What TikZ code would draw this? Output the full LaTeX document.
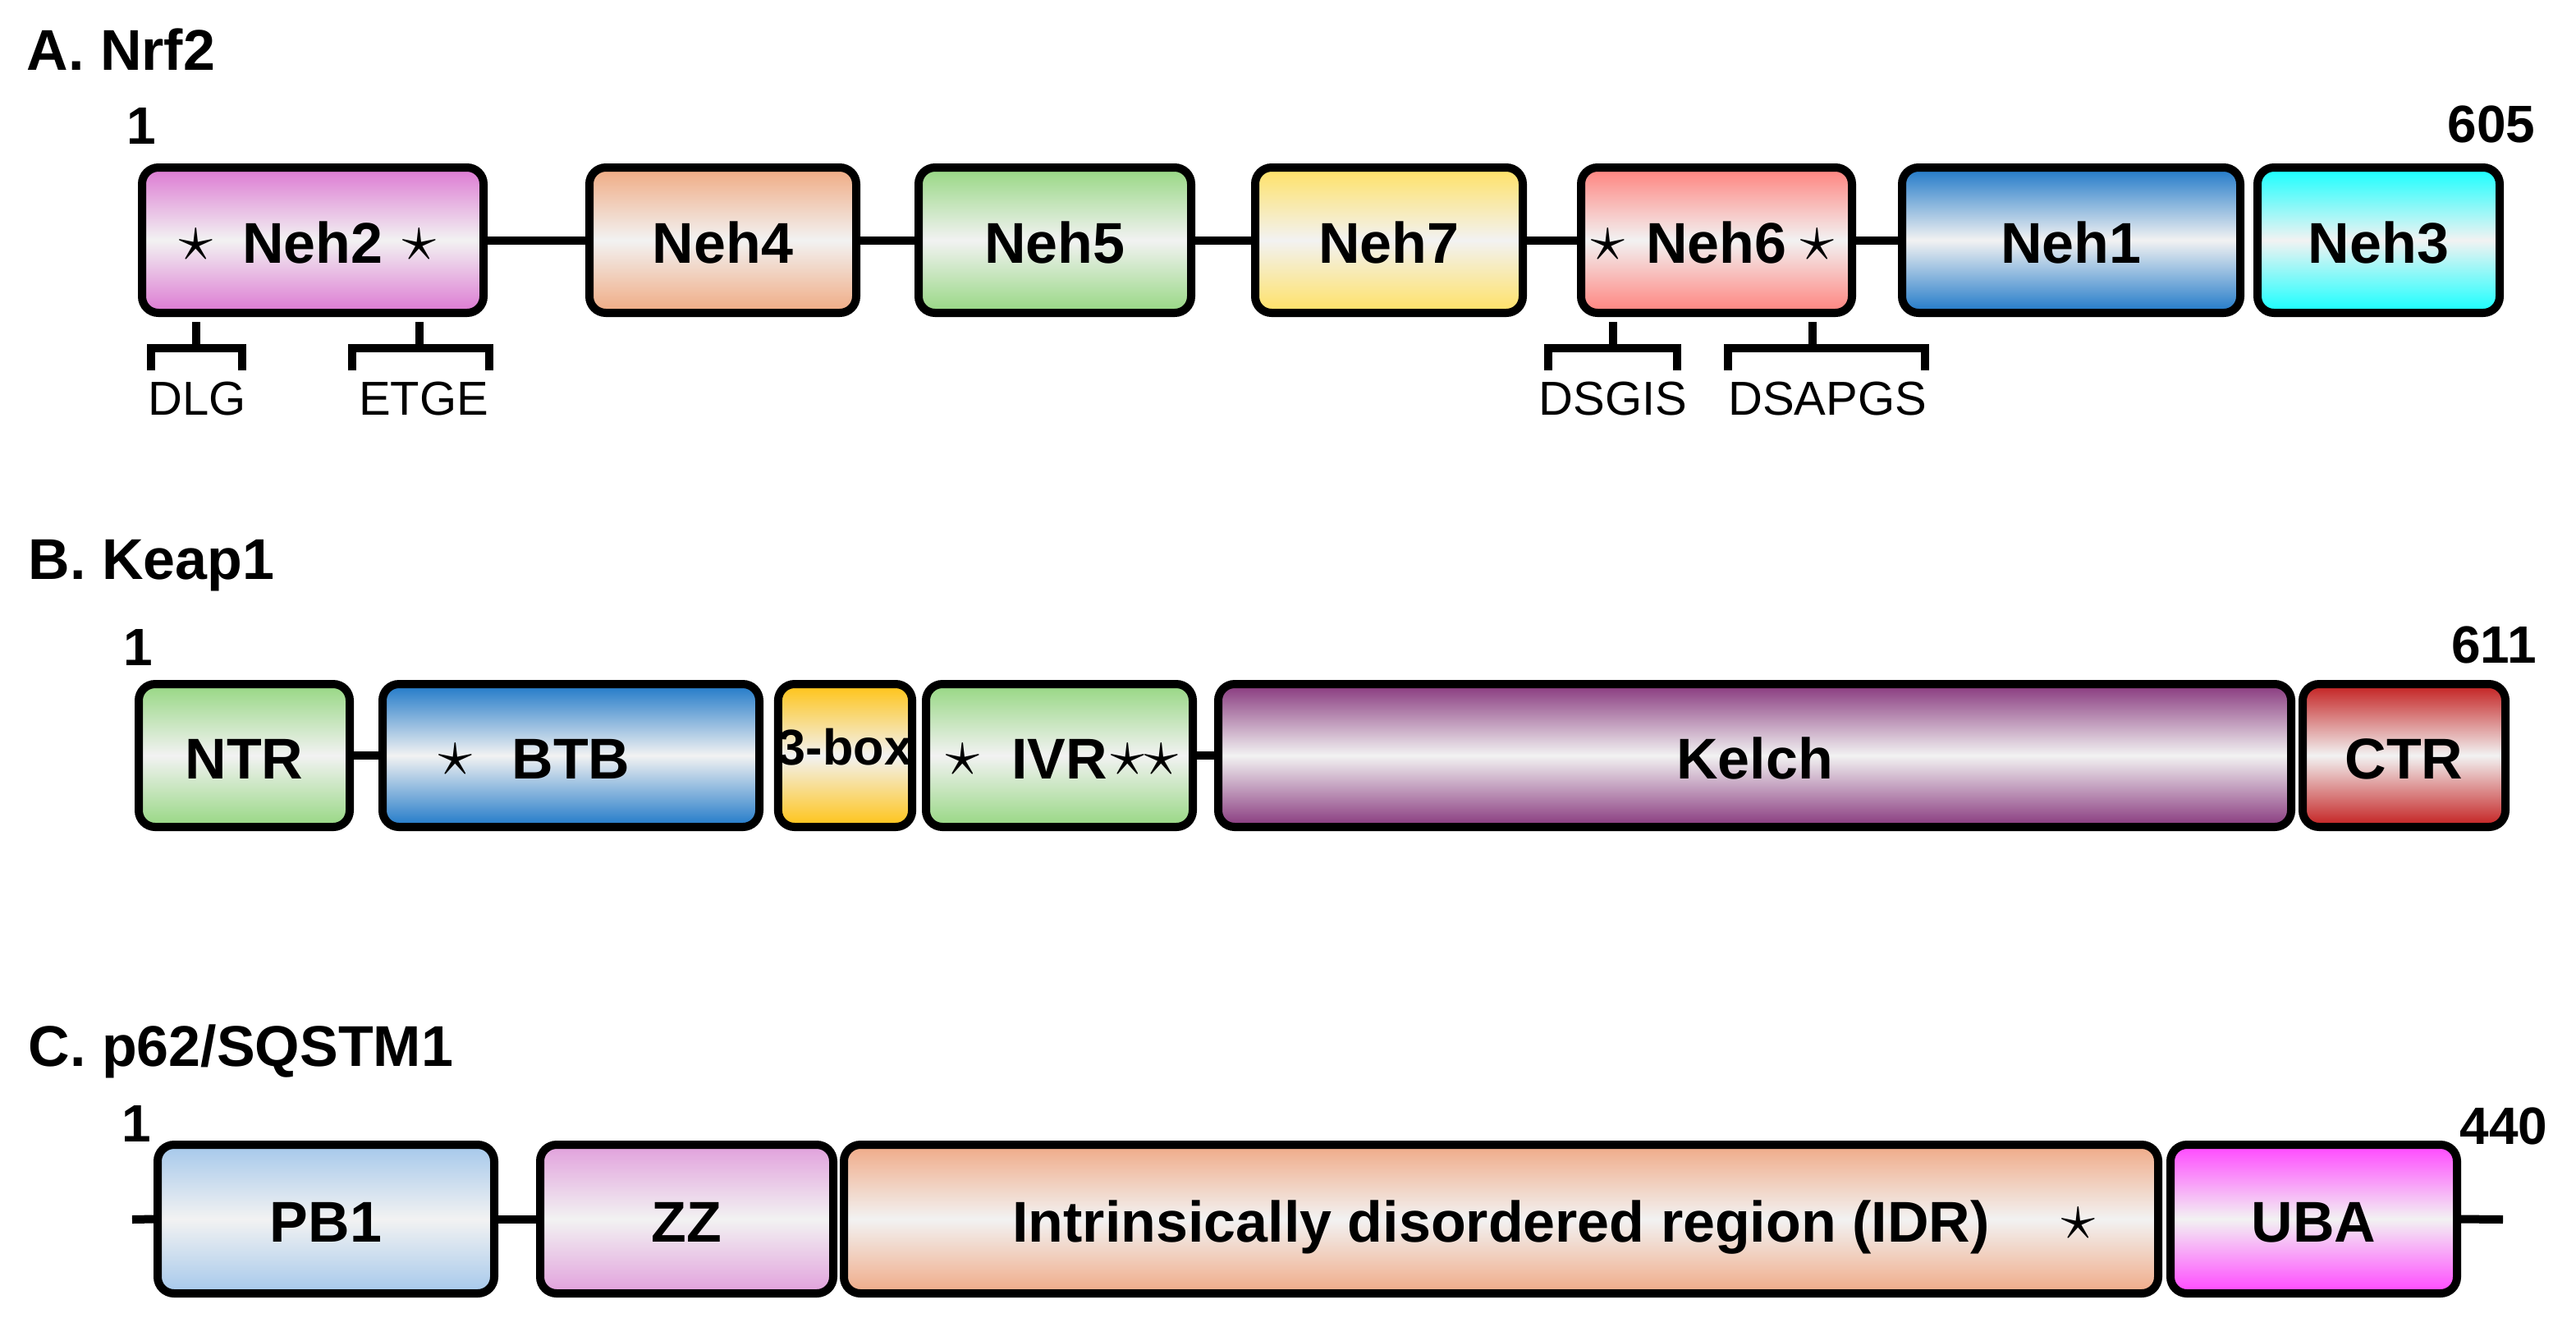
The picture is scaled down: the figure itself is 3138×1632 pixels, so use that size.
\documentclass[tikz,border=0pt]{standalone}
\usepackage{fontspec}
\usepackage{graphicx}
\setmainfont{Liberation Sans}
\definecolor{midc}{RGB}{242,242,242}
\definecolor{cNehB}{RGB}{220,120,210}
\definecolor{cNehD}{RGB}{240,170,130}
\definecolor{cNehE}{RGB}{150,215,130}
\definecolor{cNehG}{RGB}{255,225,100}
\definecolor{cNehF}{RGB}{255,130,125}
\definecolor{cNehA}{RGB}{30,120,200}
\definecolor{cNehC}{RGB}{20,255,255}
\definecolor{cNTR}{RGB}{150,215,130}
\definecolor{cBTB}{RGB}{30,120,200}
\definecolor{cTbox}{RGB}{255,195,20}
\definecolor{cIVR}{RGB}{150,215,130}
\definecolor{cKelch}{RGB}{135,55,125}
\definecolor{cCTR}{RGB}{195,30,30}
\definecolor{cPB}{RGB}{165,200,235}
\definecolor{cZZ}{RGB}{225,160,220}
\definecolor{cIDR}{RGB}{240,170,135}
\definecolor{cUBA}{RGB}{255,70,255}
\newcommand{\stx}{\raisebox{0.05em}{\scalebox{1.2}{$\star$}}}
\begin{document}
\begin{tikzpicture}[x=0.25pt,y=-0.25pt,
  dom/.style={draw, line width=2.5pt, rounded corners=5pt, inner sep=0pt,
    top color=#1, bottom color=#1, middle color=midc,
    font=\fontsize{17.5}{20}\selectfont\bfseries, text height=14pt, text depth=0pt},
  span/.style args={#1/#2/#3/#4}{at={({(#1+#3)/2},{(#2+#4)/2})},
    minimum width={(#3-#1)*0.25pt-2.5pt}, minimum height={(#4-#2)*0.25pt-2.5pt}},
  link/.style={line width=2.5pt},
  brk/.style={line width=2.5pt},
  title/.style={anchor=base west, inner sep=0pt, font=\fontsize{17.5}{20}\selectfont\bfseries},
  num/.style={anchor=base, inner sep=0pt, font=\fontsize{16}{18}\selectfont\bfseries},
  motif/.style={anchor=base, inner sep=0pt, font=\fontsize{14.5}{16}\selectfont}]
\useasboundingbox (0,0) rectangle (3138,1632);

% ---------- A. Nrf2 ----------
\node[title] (ta) at (32,85) {A. Nrf2};
\node[num] (a1) at (172,175) {1};
\node[num] (a605) at (3035,173) {605};
\node[dom=cNehB, span=168/199/594/386] (neh2) {\llap{\stx\hspace{9pt}}Neh2\rlap{\hspace{6pt}\stx}};
\node[dom=cNehD, span=713/199/1048/386] (neh4) {Neh4};
\node[dom=cNehE, span=1114/199/1456/386] (neh5) {Neh5};
\node[dom=cNehG, span=1524/199/1860/386] (neh7) {Neh7};
\node[dom=cNehF, span=1921/199/2261/386] (neh6) {\llap{\stx\hspace{6.5pt}}Neh6\rlap{\hspace{4.25pt}\stx}};
\node[dom=cNehA, span=2312/199/2734/386] (neh1) {Neh1};
\node[dom=cNehC, span=2745/199/3050/386] (neh3) {Neh3};
\draw[link] (neh2.east) -- (neh4.west);
\draw[link] (neh4.east) -- (neh5.west);
\draw[link] (neh5.east) -- (neh7.west);
\draw[link] (neh7.east) -- (neh6.west);
\draw[link] (neh6.east) -- (neh1.west);

\draw[brk] (239,392) -- (239,424);
\draw[brk] (184,451) -- (184,424) -- (295,424) -- (295,451);
\draw[brk] (511,392) -- (511,424);
\draw[brk] (429,451) -- (429,424) -- (596,424) -- (596,451);
\draw[brk] (1965,392) -- (1965,424);
\draw[brk] (1886,451) -- (1886,424) -- (2043,424) -- (2043,451);
\draw[brk] (2208,392) -- (2208,424);
\draw[brk] (2105,451) -- (2105,424) -- (2345,424) -- (2345,451);
\node[motif] (dlg) at (240,505) {DLG};
\node[motif] (etge) at (516,505) {ETGE};
\node[motif] (dsgis) at (1965,505) {DSGIS};
\node[motif] (dsapgs) at (2226,505) {DSAPGS};

% ---------- B. Keap1 ----------
\node[title] (tb) at (34,705) {B. Keap1};
\node[num] (b1) at (168,810) {1};
\node[num] (b611) at (3038,807) {611};
\node[dom=cNTR, span=164/828/431/1012] (ntr) {NTR};
\node[dom=cBTB, span=461/828/930/1012] (btb) {\llap{\stx\hspace{12pt}}BTB};
\node[dom=cTbox, span=944/828/1115/1012, font=\fontsize{15.3}{17}\selectfont\bfseries, text height=11pt, text depth=5.5pt] (tbox) {3-box};
\node[dom=cIVR, span=1123/828/1458/1012] (ivr) {\llap{\stx\hspace{9.75pt}}IVR\rlap{\hspace{1.25pt}\stx\stx}};
\node[dom=cKelch, span=1479/828/2796/1012] (kelch) {Kelch};
\node[dom=cCTR, span=2800/828/3057/1012] (ctr) {CTR};
\draw[link] (ntr.east) -- (btb.west);
\draw[link] (ivr.east) -- (kelch.west);

% ---------- C. p62/SQSTM1 ----------
\node[title] (tc) at (34,1298) {C. p62/SQSTM1};
\node[num] (c1) at (166,1390) {1};
\node[num] (c440) at (3050,1393) {440};
\node[dom=cPB, span=187/1389/607/1580] (pb1) {PB1};
\node[dom=cZZ, span=653/1389/1020/1580] (zz) {ZZ};
\node[dom=cIDR, span=1023/1389/2634/1580] (idr) {Intrinsically disordered region (IDR)\rlap{\hspace{22pt}\stx}};
\node[dom=cUBA, span=2639/1389/2998/1580] (uba) {UBA};
\coordinate (cl) at (161,1485);
\coordinate (cr) at (3049,1485);
\draw[link] (cl) -- (pb1.west);
\draw[link] (pb1.east) -- (zz.west);
\draw[link] (uba.east) -- (cr);
\end{tikzpicture}
\end{document}
